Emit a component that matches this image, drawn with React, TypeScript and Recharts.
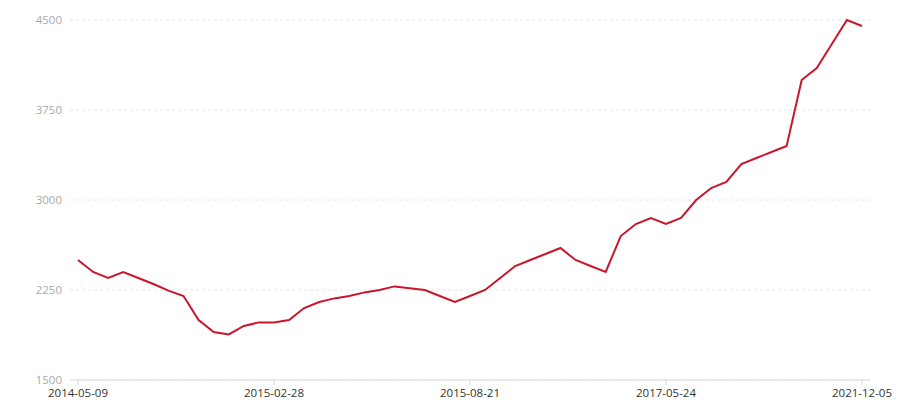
import { LineChart, Line, XAxis, YAxis, CartesianGrid } from "recharts";

const dates = [
  "2014-05-09", "2014-06-01", "2014-06-24", "2014-07-17", "2014-08-09", "2014-09-01",
  "2014-09-24", "2014-10-17", "2014-11-09", "2014-12-02", "2014-12-25", "2015-01-17",
  "2015-02-06", "2015-02-28", "2015-03-13", "2015-03-26", "2015-04-08", "2015-04-21",
  "2015-05-04", "2015-05-17", "2015-05-30", "2015-06-12", "2015-06-25", "2015-07-08",
  "2015-07-21", "2015-08-03", "2015-08-21", "2015-10-09", "2015-11-27", "2016-01-15",
  "2016-03-04", "2016-04-22", "2016-06-10", "2016-07-29", "2016-09-16", "2016-11-04",
  "2016-12-23", "2017-02-10", "2017-03-31", "2017-05-24", "2017-09-28", "2018-02-02",
  "2018-06-09", "2018-10-14", "2019-02-18", "2019-06-24", "2019-10-29", "2020-03-04",
  "2020-07-09", "2020-11-13", "2021-03-20", "2021-07-25", "2021-12-05",
];

const prices = [
  2500, 2400, 2350, 2400, 2350, 2300, 2245, 2200, 2000, 1900, 1880, 1950,
  1980, 1980, 2000, 2100, 2150, 2180, 2200, 2230, 2250, 2280, 2265, 2250,
  2200, 2150, 2200, 2250, 2350, 2450, 2500, 2550, 2600, 2500, 2450, 2400,
  2700, 2800, 2850, 2800, 2850, 3000, 3100, 3150, 3300, 3350, 3400, 3450,
  4000, 4100, 4300, 4500, 4450,
];

const yTicks = [1500, 2250, 3000, 3750, 4500];

const chartData = dates.map((date, i) => ({ date, price: prices[i] }));

export default function App() {
  return (
    <div style={{ width: 892, height: 392 }}>
      <LineChart
        width={892}
        height={392}
        data={chartData}
        margin={{ top: 12, right: 30, bottom: 0, left: 0 }}
        style={{ fontFamily: "'Open Sans', sans-serif" }}
      >
        <CartesianGrid vertical={false} stroke="#e6e6e6" strokeDasharray="3 3" />
        <XAxis
          dataKey="date"
          interval={12}
          height={20}
          padding={{ left: 8, right: 8 }}
          stroke="#d9d9d9"
          tickSize={5}
          tickMargin={4}
          tick={{ fill: "#333", fontSize: 11.5 }}
        />
        <YAxis
          width={62}
          domain={[1500, 4500]}
          ticks={yTicks}
          axisLine={false}
          tickLine={false}
          tick={{ fill: "#aaa", fontSize: 11.5 }}
        />
        <Line
          type="linear"
          dataKey="price"
          stroke="#c8172c"
          strokeWidth={2}
          dot={false}
          isAnimationActive={false}
        />
      </LineChart>
    </div>
  );
}
